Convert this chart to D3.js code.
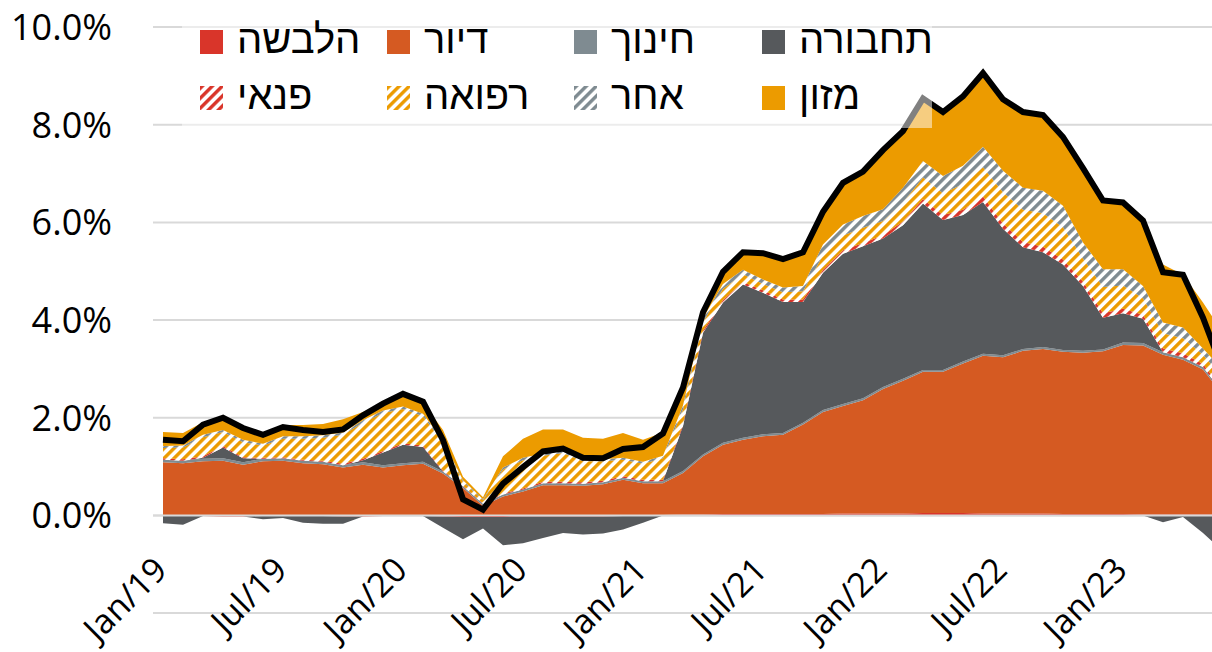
<!DOCTYPE html>
<html>
<head>
<meta charset="utf-8">
<script src="https://cdn.jsdelivr.net/npm/d3@7"></script>
<style>
  html, body { margin: 0; padding: 0; background: #fff; }
  svg { display: block; }
</style>
</head>
<body>
<svg id="chart" width="1212" height="652"></svg>
<script>
// Monthly categories
const months = [
  "Jan/19","Feb/19","Mar/19","Apr/19","May/19","Jun/19","Jul/19","Aug/19","Sep/19","Oct/19","Nov/19","Dec/19",
  "Jan/20","Feb/20","Mar/20","Apr/20","May/20","Jun/20","Jul/20","Aug/20","Sep/20","Oct/20","Nov/20","Dec/20",
  "Jan/21","Feb/21","Mar/21","Apr/21","May/21","Jun/21","Jul/21","Aug/21","Sep/21","Oct/21","Nov/21","Dec/21",
  "Jan/22","Feb/22","Mar/22","Apr/22","May/22","Jun/22","Jul/22","Aug/22","Sep/22","Oct/22","Nov/22","Dec/22",
  "Jan/23","Feb/23","Mar/23","Apr/23","May/23","Jun/23"
];

// Contributions to annual inflation, percentage points
const clothing = [
  -0.01,-0.01,-0.01,-0.02,-0.02,-0.01,-0.01,-0.01,-0.01,-0.02,-0.02,-0.01,
  -0.01,-0.01,-0.02,-0.03,-0.03,-0.03,-0.02,-0.02,-0.02,-0.02,-0.02,-0.01,
  0.00,0.01,0.02,0.02,0.03,0.03,0.03,0.03,0.03,0.03,0.04,0.04,
  0.04,0.04,0.05,0.05,0.05,0.04,0.04,0.04,0.04,0.03,0.03,0.03,
  0.03,0.02,0.02,0.02,0.02,0.02
];
const housing = [
  1.09,1.07,1.11,1.12,1.04,1.11,1.12,1.07,1.05,0.98,1.04,0.98,
  1.03,1.06,0.86,0.56,0.20,0.39,0.49,0.62,0.62,0.61,0.64,0.73,
  0.66,0.65,0.85,1.19,1.42,1.52,1.59,1.62,1.83,2.09,2.20,2.32,
  2.55,2.72,2.89,2.89,3.06,3.23,3.20,3.33,3.37,3.32,3.30,3.33,
  3.46,3.46,3.27,3.17,2.97,2.44
];
const education = [
  0.05,0.05,0.05,0.05,0.05,0.05,0.05,0.05,0.05,0.05,0.05,0.05,
  0.04,0.04,0.04,0.04,0.04,0.04,0.04,0.04,0.04,0.04,0.04,0.04,
  0.04,0.04,0.04,0.04,0.04,0.04,0.04,0.04,0.04,0.04,0.04,0.04,
  0.04,0.04,0.04,0.04,0.04,0.04,0.04,0.04,0.04,0.04,0.04,0.04,
  0.05,0.05,0.05,0.05,0.05,0.05
];
const transport = [
  -0.15,-0.18,0.02,0.22,0.08,-0.07,-0.04,-0.14,-0.16,-0.15,0.04,0.26,
  0.38,0.30,-0.23,-0.46,-0.24,-0.58,-0.55,-0.44,-0.34,-0.37,-0.35,-0.28,
  -0.15,0.00,0.92,2.49,2.87,3.14,2.90,2.68,2.47,2.81,3.08,3.11,
  3.04,3.14,3.41,3.07,3.00,3.11,2.59,2.08,1.94,1.75,1.33,0.65,
  0.60,0.50,-0.14,-0.03,-0.36,-0.74
];
const leisure = [
  0.03,0.03,0.03,0.03,0.02,0.02,0.02,0.02,0.02,0.03,0.03,0.03,
  0.03,0.03,0.02,0.01,0.01,0.02,0.02,0.03,0.03,0.03,0.03,0.03,
  0.03,0.03,0.04,0.04,0.05,0.05,0.05,0.05,0.05,0.06,0.07,0.07,
  0.07,0.08,0.09,0.10,0.11,0.11,0.11,0.11,0.11,0.10,0.09,0.09,
  0.09,0.08,0.08,0.08,0.06,0.06
];
const medical = [
  0.21,0.24,0.39,0.29,0.31,0.25,0.38,0.43,0.47,0.59,0.74,0.78,
  0.70,0.60,0.57,0.08,0.06,0.49,0.58,0.53,0.59,0.43,0.40,0.34,
  0.33,0.44,0.30,0.18,0.23,0.16,0.13,0.15,0.17,0.30,0.30,0.31,
  0.29,0.39,0.44,0.45,0.52,0.60,0.64,0.66,0.69,0.66,0.47,0.54,
  0.48,0.34,0.31,0.31,0.19,0.24
];
const other = [
  0.04,0.04,0.05,0.04,0.05,0.04,0.05,0.05,0.05,0.05,0.05,0.05,
  0.05,0.05,0.04,0.03,0.02,0.04,0.05,0.05,0.05,0.04,0.04,0.04,
  0.04,0.05,0.08,0.08,0.10,0.09,0.09,0.10,0.11,0.22,0.23,0.24,
  0.24,0.30,0.34,0.35,0.38,0.42,0.44,0.45,0.46,0.44,0.33,0.36,
  0.33,0.25,0.22,0.22,0.13,0.16
];
const food = [
  0.29,0.26,0.26,0.27,0.27,0.21,0.23,0.23,0.23,0.27,0.17,0.16,
  0.28,0.23,0.22,0.07,0.04,0.23,0.39,0.49,0.43,0.44,0.42,0.51,
  0.45,0.48,0.35,0.16,0.26,0.37,0.57,0.63,0.70,0.65,0.84,0.87,
  1.23,1.19,1.24,1.35,1.44,1.55,1.44,1.59,1.55,1.36,1.51,1.46,
  1.36,1.30,1.19,1.08,0.94,0.77
];
// Headline annual inflation, percent
const total = [
  1.55,1.52,1.86,2.00,1.79,1.65,1.81,1.75,1.71,1.76,2.05,2.29,
  2.49,2.33,1.54,0.33,0.12,0.65,0.99,1.31,1.37,1.18,1.17,1.36,
  1.40,1.68,2.62,4.16,4.99,5.39,5.37,5.25,5.39,6.22,6.81,7.04,
  7.48,7.87,8.54,8.26,8.58,9.06,8.52,8.26,8.20,7.75,7.11,6.45,
  6.41,6.04,4.98,4.93,4.05,2.97
];

const xTickLabels = ["Jan/19","Jul/19","Jan/20","Jul/20","Jan/21","Jul/21","Jan/22","Jul/22","Jan/23"];
const yTickValues = [0, 2, 4, 6, 8, 10];
const yGridValues = [-2, 0, 2, 4, 6, 8, 10];

const series = [
  { key: "clothing",  name: "הלבשה",  values: clothing,  color: "#d9352a", hatch: false },
  { key: "housing",   name: "דיור",   values: housing,   color: "#d55a22", hatch: false },
  { key: "education", name: "חינוך",  values: education, color: "#7f8b91", hatch: false },
  { key: "transport", name: "תחבורה", values: transport, color: "#56595c", hatch: false },
  { key: "leisure",   name: "פנאי",   values: leisure,   color: "#d9352a", hatch: true },
  { key: "medical",   name: "רפואה",  values: medical,   color: "#ec9b00", hatch: true },
  { key: "other",     name: "אחר",    values: other,     color: "#7f8b91", hatch: true },
  { key: "food",      name: "מזון",   values: food,      color: "#ec9b00", hatch: false }
];

const svg = d3.select("#chart");
const plotLeft = 153, plotRight = 1212;

const x = d3.scalePoint().domain(months).range([153, 1233]).padding(0.5);
const y = d3.scaleLinear().domain([-2, 10]).range([613.1, 27.1]);

// Diagonal stripe fills
const defs = svg.append("defs");
series.filter(s => s.hatch).forEach(s => {
  const p = defs.append("pattern")
    .attr("id", "hatch-" + s.key)
    .attr("patternUnits", "userSpaceOnUse")
    .attr("width", 7.07).attr("height", 7.07)
    .attr("patternTransform", "rotate(45)");
  p.append("rect").attr("width", 7.07).attr("height", 7.07).attr("fill", "#fff");
  p.append("rect").attr("width", 3.4).attr("height", 7.07).attr("fill", s.color);
});
const fillOf = s => s.hatch ? `url(#hatch-${s.key})` : s.color;

// Gridlines
svg.append("g").selectAll("line").data(yGridValues).join("line")
  .attr("x1", plotLeft).attr("x2", plotRight)
  .attr("y1", d => y(d)).attr("y2", d => y(d))
  .attr("stroke", "#d9d9d9").attr("stroke-width", 2);

// Stacked areas: positive parts build up from zero, negative parts build down
const keys = series.map(s => s.key);
const rows = months.map((m, i) => {
  const r = { month: m };
  series.forEach(s => { r[s.key] = s.values[i]; });
  return r;
});
const posStack = d3.stack().keys(keys).value((r, k) => Math.max(0, r[k]))(rows);
const negStack = d3.stack().keys(keys).value((r, k) => Math.min(0, r[k]))(rows);
const area = d3.area()
  .x(d => x(d.data.month))
  .y0(d => y(d[0]))
  .y1(d => y(d[1]));

const areas = svg.append("g");
[negStack, posStack].forEach(st => {
  areas.append("g").selectAll("path").data(st).join("path")
    .attr("d", area)
    .attr("fill", (d, i) => fillOf(series[i]));
});

// Zero line
svg.append("line")
  .attr("x1", plotLeft).attr("x2", plotRight)
  .attr("y1", y(0)).attr("y2", y(0))
  .attr("stroke", "#d9d9d9").attr("stroke-width", 2);

// Headline inflation line
const line = d3.line().x((d, i) => x(months[i])).y(d => y(d));
svg.append("path")
  .datum(total)
  .attr("d", line)
  .attr("fill", "none")
  .attr("stroke", "#000")
  .attr("stroke-width", 6);

// Y axis labels
svg.append("g").selectAll("text").data(yTickValues).join("text")
  .attr("x", 112).attr("y", d => y(d))
  .attr("dy", "0.36em")
  .attr("text-anchor", "end")
  .attr("font-family", "'Open Sans', 'Liberation Sans', sans-serif")
  .attr("font-size", 36)
  .attr("fill", "#000")
  .text(d => d3.format(".1f")(d) + "%");

// X axis labels
svg.append("g").selectAll("text").data(xTickLabels).join("text")
  .attr("transform", d => `translate(${x(d) + 6},572) rotate(-45)`)
  .attr("text-anchor", "end")
  .attr("font-family", "'Open Sans', 'Liberation Sans', sans-serif")
  .attr("font-size", 34)
  .attr("fill", "#000")
  .text(d => d);

// Legend
svg.append("rect")
  .attr("x", 182).attr("y", 14).attr("width", 750).attr("height", 114)
  .attr("fill", "#fff").attr("fill-opacity", 0.5);

const legend = svg.append("g");
const colX = [200, 387, 574, 762];
const rowY = [30, 86];
series.forEach((s, i) => {
  const col = i % 4, row = Math.floor(i / 4);
  const g = legend.append("g").attr("transform", `translate(${colX[col]},${rowY[row]})`);
  g.append("rect").attr("width", 23).attr("height", 24).attr("fill", fillOf(s));
  g.append("text")
    .attr("x", 37).attr("y", 23)
    .attr("font-family", "'Liberation Sans', Arial, sans-serif")
    .attr("font-size", 40)
    .attr("fill", "#000")
    .text(s.name);
});
</script>
</body>
</html>
